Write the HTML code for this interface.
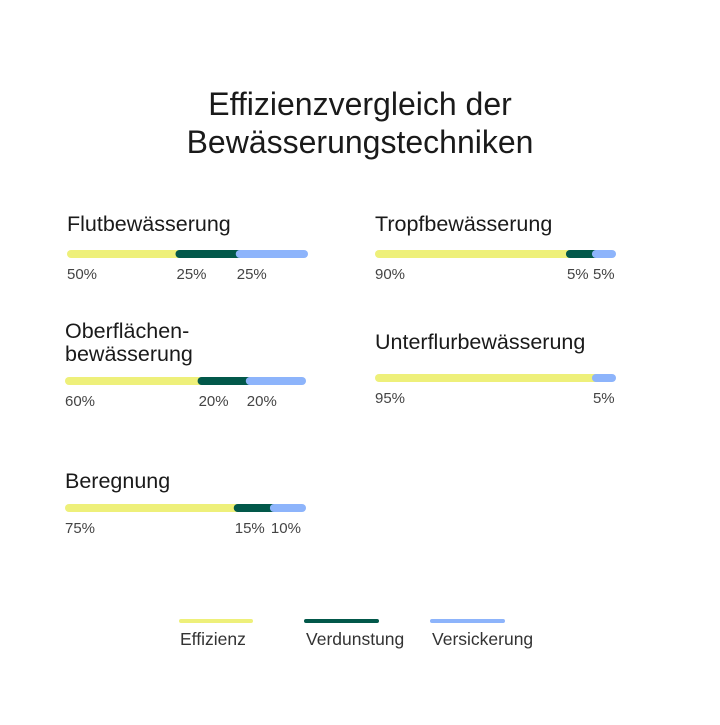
<!DOCTYPE html>
<html><head><meta charset="utf-8"><style>
body{margin:0;background:#fff;}
svg text{font-family:"Liberation Sans",sans-serif;}
</style></head><body>
<svg width="720" height="720" viewBox="0 0 720 720" id="c">
<text x="360" y="115" text-anchor="middle" font-size="32" fill="#1a1a1a">Effizienzvergleich der</text>
<text x="360" y="153" text-anchor="middle" font-size="32" fill="#1a1a1a">Bewässerungstechniken</text>
<g>
<line x1="181" y1="621" x2="251" y2="621" stroke="#eef07a" stroke-width="4" stroke-linecap="round"/>
<text x="180" y="645" font-size="17.5" fill="#333">Effizienz</text>
<line x1="306" y1="621" x2="377" y2="621" stroke="#02584a" stroke-width="4" stroke-linecap="round"/>
<text x="306" y="645" font-size="17.5" fill="#333">Verdunstung</text>
<line x1="432" y1="621" x2="503" y2="621" stroke="#8db4fb" stroke-width="4" stroke-linecap="round"/>
<text x="432" y="645" font-size="17.5" fill="#333">Versickerung</text>
</g>
</svg>
<script>
const techniques=[["Flutbewässerung"],["Tropfbewässerung"],["Oberflächen-","bewässerung"],["Unterflurbewässerung"],["Beregnung"]];
const effizienz=[50,90,60,95,75];
const verdunstung=[25,5,20,0,15];
const versickerung=[25,5,20,5,10];
const colors=["#eef07a","#02584a","#8db4fb"];
const layout=[{x:67,ty:231,by:254},{x:375,ty:231,by:254},{x:65,ty:338,by:381},{x:375,ty:349,by:378},{x:65,ty:488,by:508}];
const W=241;
const svg=document.getElementById('c');
const NS="http://www.w3.org/2000/svg";
function xs(x0,cum){return x0+W*cum/100;}
techniques.forEach((t,i)=>{
  const L=layout[i];
  const g=document.createElementNS(NS,'g');
  
  
  svg.appendChild(g);
  t.forEach((line,k)=>{
    const tx=document.createElementNS(NS,'text');
    
    
    tx.setAttribute('x',L.x);tx.setAttribute('y',L.ty+k*23);
    tx.setAttribute('font-size','21.5');tx.setAttribute('fill','#1a1a1a');
    tx.textContent=line;g.appendChild(tx);
  });
  const vals=[effizienz[i],verdunstung[i],versickerung[i]];
  const segs=[];
  let cum=0;
  vals.forEach((v,j)=>{
    if(v>0){let s=xs(L.x,cum);if(j>0)s-=12;segs.push({j:j,v:v,s:s});}
    cum+=v;
  });
  const end=xs(L.x,100);
  let limit=end-20;
  for(let k=segs.length-1;k>0;k--){
    if(segs[k].s>limit)segs[k].s=limit;
    limit=segs[k].s-26;
  }
  segs.forEach((sg,k)=>{
    const e=k===segs.length-1?end:segs[k+1].s+8;
    const r=document.createElementNS(NS,'rect');
    
    
    r.setAttribute('x',sg.s);r.setAttribute('y',L.by-4);
    r.setAttribute('width',Math.max(e-sg.s,8));r.setAttribute('height',8);
    r.setAttribute('rx',4);r.setAttribute('fill',colors[sg.j]);
    g.appendChild(r);
  });
  segs.forEach((sg,k)=>{
    const lb=document.createElementNS(NS,'text');
    
    
    lb.setAttribute('x',k===0?L.x:sg.s+1);lb.setAttribute('y',L.by+25);
    lb.setAttribute('font-size','15');lb.setAttribute('fill','#444');
    lb.textContent=sg.v+'%';g.appendChild(lb);
  });
});
</script>
</body></html>
